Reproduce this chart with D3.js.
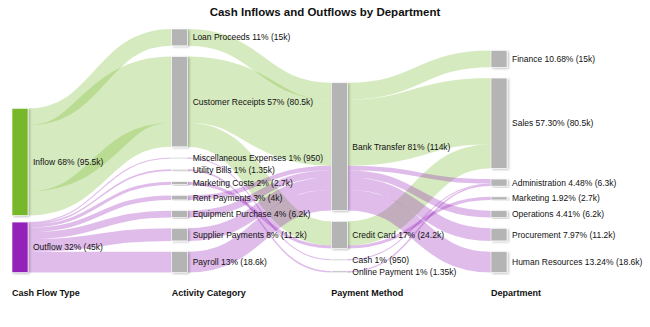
<!DOCTYPE html>
<html><head><meta charset="utf-8">
<script src="https://cdn.jsdelivr.net/npm/d3@7"></script>
<style>
body{margin:0;background:#fff}
svg{display:block;font-family:"Liberation Sans",Arial,Helvetica,sans-serif}
</style>
</head><body>
<svg id="chart" width="650" height="327"></svg>
<script>
// ---------- DATA ----------
const chartTitle = "Cash Inflows and Outflows by Department";
const columnTitles = ["Cash Flow Type", "Activity Category", "Payment Method", "Department"];
const flowTypes = ["Inflow", "Outflow"];
const activities = ["Loan Proceeds", "Customer Receipts", "Miscellaneous Expenses", "Utility Bills",
  "Marketing Costs", "Rent Payments", "Equipment Purchase", "Supplier Payments", "Payroll"];
const paymentMethods = ["Bank Transfer", "Credit Card", "Cash", "Online Payment"];
const departments = ["Finance", "Sales", "Administration", "Marketing", "Operations", "Procurement", "Human Resources"];

// one record per transaction path: type -> activity -> payment -> department
const pathType = ["Inflow", "Inflow", "Inflow", "Outflow", "Outflow", "Outflow", "Outflow", "Outflow", "Outflow", "Outflow"];
const pathActivity = ["Loan Proceeds", "Customer Receipts", "Customer Receipts", "Miscellaneous Expenses", "Utility Bills",
  "Marketing Costs", "Rent Payments", "Equipment Purchase", "Supplier Payments", "Payroll"];
const pathPayment = ["Bank Transfer", "Bank Transfer", "Credit Card", "Cash", "Online Payment",
  "Credit Card", "Bank Transfer", "Bank Transfer", "Bank Transfer", "Bank Transfer"];
const pathDepartment = ["Finance", "Sales", "Sales", "Administration", "Administration",
  "Marketing", "Administration", "Operations", "Procurement", "Human Resources"];
const pathValues = [15000, 59000, 21500, 950, 1350, 2700, 4000, 6200, 11200, 18600];

const typeColors = {Inflow: "#76b82a", Outflow: "#9422b8"};
const nodeGray = "#b4b4b4";

// ---------- SANKEY LAYOUT (bottom-aligned columns) ----------
function sankeyLayout(graph, opt) {
  const [[x0, y0], [x1, y1]] = opt.extent;
  const dx = opt.nodeWidth;
  const {nodes, links} = graph;
  nodes.forEach((n, i) => { n.index = i; n.sourceLinks = []; n.targetLinks = []; });
  const byId = new Map(nodes.map(n => [n.name, n]));
  links.forEach((l, i) => {
    l.index = i;
    l.source = byId.get(l.source); l.target = byId.get(l.target);
    l.source.sourceLinks.push(l); l.target.targetLinks.push(l);
  });
  nodes.forEach(n => n.value = Math.max(d3.sum(n.sourceLinks, l => l.value), d3.sum(n.targetLinks, l => l.value)));
  let current = new Set(nodes), next = new Set, depth = 0;
  while (current.size) {
    for (const n of current) { n.depth = depth; for (const l of n.sourceLinks) next.add(l.target); }
    depth++; current = next; next = new Set;
  }
  const nCols = d3.max(nodes, d => d.depth) + 1;
  const xScale = d3.scaleLinear().domain([0, nCols - 1]).range([x0, x1 - dx]);
  const columns = Array.from({length: nCols}, () => []);
  for (const n of nodes) { n.x0 = xScale(n.depth); n.x1 = n.x0 + dx; columns[n.depth].push(n); }
  const pad = i => opt.columnPadding[i];
  const ky = d3.min(columns, (c, i) => (y1 - y0 - (c.length - 1) * pad(i)) / d3.sum(c, d => d.value));
  columns.forEach((col, ci) => {
    let y = y1;
    for (let i = col.length - 1; i >= 0; --i) {
      const n = col[i];
      n.y1 = y; n.y0 = y - n.value * ky; y = n.y0 - pad(ci);
    }
  });
  links.forEach(l => l.width = l.value * ky);
  for (const n of nodes) {
    n.sourceLinks.sort((a, b) => a.target.y0 - b.target.y0 || a.index - b.index);
    n.targetLinks.sort((a, b) => a.source.y0 - b.source.y0 || a.index - b.index);
    let a = n.y0, b = n.y0;
    for (const l of n.sourceLinks) { l.y0 = a + l.width / 2; a += l.width; }
    for (const l of n.targetLinks) { l.y1 = b + l.width / 2; b += l.width; }
  }
  return {nodes, links, columns};
}

// ---------- BUILD ----------
const W = 650, H = 327;
const svg = d3.select("#chart");
const allNames = [...flowTypes, ...activities, ...paymentMethods, ...departments];
const stages = [pathType, pathActivity, pathPayment, pathDepartment];
const linkList = [];
for (let s = 0; s < stages.length - 1; s++) {
  pathValues.forEach((v, i) => linkList.push({source: stages[s][i], target: stages[s + 1][i], value: v, type: pathType[i]}));
}
const graph = sankeyLayout({nodes: allNames.map(name => ({name})), links: linkList},
  {extent: [[12, 29], [507, 272.5]], nodeWidth: 16, columnPadding: [6.6, 10.75, 10.75, 10.75]});

const total = d3.sum(graph.columns[0], d => d.value);
const fmtVal = d3.format("~s");
const pctFormats = [d3.format(".0%"), d3.format(".0%"), d3.format(".0%"), d3.format(".2%")];

const defs = svg.append("defs");
const f = defs.append("filter").attr("id", "shadow").attr("x", "-50%").attr("y", "-20%").attr("width", "200%").attr("height", "140%");
f.append("feDropShadow").attr("dx", 1.5).attr("dy", 1).attr("stdDeviation", 0.8).attr("flood-color", "#000").attr("flood-opacity", 0.25);

svg.append("text")
  .attr("x", W / 2).attr("y", 12).attr("dy", "0.35em")
  .attr("text-anchor", "middle").attr("font-size", "11.5px").attr("font-weight", "bold").attr("fill", "#111")
  .text(chartTitle);

const linkPath = d3.linkHorizontal()
  .source(d => [d.source.x1, d.y0])
  .target(d => [d.target.x0, d.y1]);

svg.append("g").attr("fill", "none")
  .selectAll("path").data(graph.links).join("path")
  .attr("d", linkPath)
  .attr("stroke", d => typeColors[d.type])
  .attr("stroke-opacity", 0.3)
  .attr("stroke-width", d => Math.max(1, d.width));

svg.append("g")
  .selectAll("rect").data(graph.nodes).join("rect")
  .attr("x", d => d.x0).attr("y", d => d.y0)
  .attr("width", d => d.x1 - d.x0).attr("height", d => Math.max(1, d.y1 - d.y0))
  .attr("fill", d => d.depth === 0 ? typeColors[d.name] : nodeGray)
  .attr("stroke", "#fff").attr("stroke-width", 0.6)
  .attr("filter", "url(#shadow)");

svg.append("g").attr("font-size", "8.5px").attr("fill", "#111")
  .selectAll("text").data(graph.nodes).join("text")
  .attr("x", d => d.x1 + 5)
  .attr("y", d => (d.y0 + d.y1) / 2)
  .attr("dy", "0.35em")
  .text(d => `${d.name} ${pctFormats[d.depth](d.value / total)} (${fmtVal(d.value)})`);

svg.append("g").attr("font-size", "9px").attr("font-weight", "bold").attr("fill", "#111")
  .selectAll("text").data(graph.columns).join("text")
  .attr("x", c => c[0].x0)
  .attr("y", 293).attr("dy", "0.35em")
  .text((c, i) => columnTitles[i]);
</script>
</body></html>
